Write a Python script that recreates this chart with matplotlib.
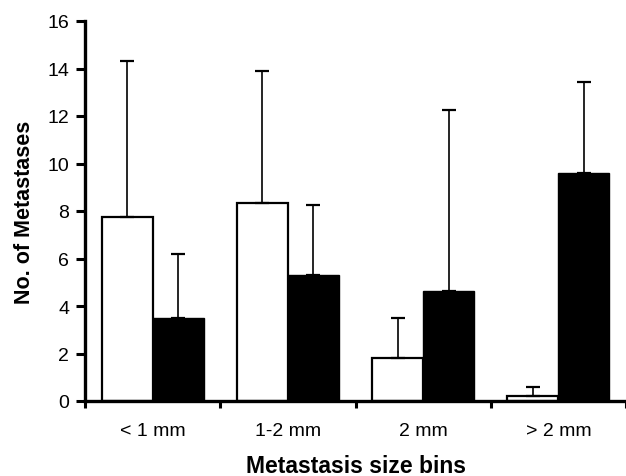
import matplotlib
matplotlib.use("Agg")
import matplotlib.pyplot as plt
import numpy as np

categories = ["< 1 mm", "1-2 mm", "2 mm", "> 2 mm"]
white_vals = [7.75, 8.33, 1.8, 0.22]
white_err = [6.55, 5.55, 1.7, 0.38]
black_vals = [3.5, 5.3, 4.65, 9.58]
black_err = [2.7, 2.95, 7.6, 3.85]
yticks = [0, 2, 4, 6, 8, 10, 12, 14, 16]

plt.rcParams['font.family'] = ['Liberation Sans', 'DejaVu Sans']

fig = plt.figure(figsize=(6.26, 4.77), dpi=100)
ax = fig.add_axes([85/626, 1 - 402/477, 1 - 85/626, (402 - 22)/477])

x = np.arange(len(categories))
w = 0.378
ekw = dict(elinewidth=1.2, capthick=1.6, ecolor='black')
ax.bar(x - w/2, white_vals, w, color='white', edgecolor='black', linewidth=1.6,
       yerr=[np.zeros(4), white_err], capsize=5, error_kw=ekw, zorder=2)
ax.bar(x + w/2, black_vals, w, color='black', edgecolor='black', linewidth=1.0,
       yerr=[np.zeros(4), black_err], capsize=5, error_kw=ekw, zorder=2)

ax.set_xlim(-0.5, 3.5)
ax.set_ylim(0, 16)
ax.set_yticks(yticks)
ax.set_xticks(x)
ax.set_xticklabels(categories, fontsize=14)
ax.set_xticks(np.arange(-0.5, 4.0, 1.0), minor=True)
ax.tick_params(axis='x', which='major', length=0, pad=15)
ax.tick_params(axis='x', which='minor', length=5, width=2.2, direction='out')
ax.tick_params(axis='y', which='major', length=6.5, width=2.2, labelsize=14, pad=5)

for s in ['top', 'right']:
    ax.spines[s].set_visible(False)
for s in ['left', 'bottom']:
    ax.spines[s].set_linewidth(2.4)

ax.set_ylabel("No. of Metastases", fontsize=15.5, fontweight='bold', labelpad=9)
ax.set_xlabel("Metastasis size bins", fontsize=16.5, fontweight='bold', labelpad=11)

fig.savefig("out.png", dpi=100)
